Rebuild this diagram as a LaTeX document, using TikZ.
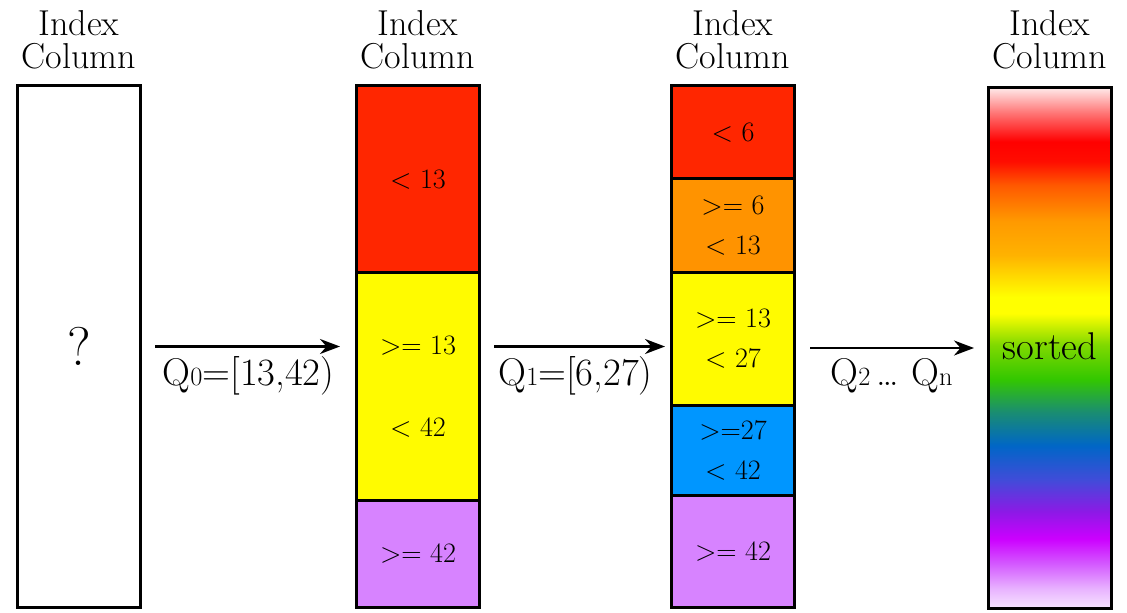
\documentclass[tikz,border=0pt]{standalone}
\usepackage{xcolor}
\usepackage{tikz}
\usetikzlibrary{arrows.meta}

\definecolor{lowred}{RGB}{255,38,0}
\definecolor{midorange}{RGB}{255,147,0}
\definecolor{midyellow}{RGB}{255,251,0}
\definecolor{midblue}{RGB}{0,150,255}
\definecolor{highpurple}{RGB}{215,131,255}

\pgfdeclareverticalshading{rainbow}{100bp}{
  rgb(0bp)=(0.97,0.9,1); rgb(25bp)=(0.97,0.9,1); rgb(26.9bp)=(0.91,0.7,1);
  rgb(29.3bp)=(0.83,0.35,1); rgb(31.7bp)=(0.8,0,1); rgb(34.3bp)=(0.55,0.1,0.9);
  rgb(37.4bp)=(0.25,0.3,0.85); rgb(40.6bp)=(0,0.4,0.78); rgb(43.8bp)=(0.1,0.55,0.45);
  rgb(47bp)=(0.2,0.78,0); rgb(50.3bp)=(0.5,0.85,0); rgb(53.3bp)=(1,1,0);
  rgb(54.9bp)=(1,1,0); rgb(58.9bp)=(1,0.7,0); rgb(62.2bp)=(1,0.6,0);
  rgb(65.6bp)=(1,0.35,0); rgb(67.9bp)=(1,0.05,0); rgb(69.8bp)=(1,0,0);
  rgb(72.5bp)=(1,0.45,0.45); rgb(75bp)=(1,0.92,0.92); rgb(100bp)=(1,0.92,0.92)}

\newcommand{\qsub}[1]{{\fontsize{15}{16}\selectfont #1}}

\tikzset{
  block/.style={draw, line width=0.6mm, minimum width=24.6mm, inner sep=0pt,
    align=center, font=\fontsize{16}{22.8}\selectfont},
  title/.style={align=center, inner sep=0pt, font=\fontsize{20.5}{19}\selectfont},
  flow/.style={-{Stealth[length=4mm,width=3mm]}, line width=0.45mm},
  qlabel/.style={below=0.6mm, font=\fontsize{22}{24}\selectfont}
}

\begin{document}
\begin{tikzpicture}[x=0.2mm, y=-0.2mm]
    \useasboundingbox (0,0) rectangle (1127,613);
    % unknown order
    \node[block, minimum height=104.4mm, font=\fontsize{31}{36}\selectfont] (c1) at (79,346.5) {?};
    % after Q0
    \node[block, fill=lowred, minimum height=37.5mm] (c2a) at (418,179.25) {\textless{} 13};
    \node[block, fill=midyellow, minimum height=45.4mm] (c2b) at (418,386.5) {\textgreater= 13\\[24pt]\textless{} 42};
    \node[block, fill=highpurple, minimum height=21.5mm] (c2c) at (418,553.75) {\textgreater= 42};
    % after Q1
    \node[block, fill=lowred, minimum height=18.7mm] (c3a) at (733,132.25) {\textless{} 6};
    \node[block, fill=midorange, minimum height=18.8mm] (c3b) at (733,226) {\textgreater= 6\\\textless{} 13};
    \node[block, fill=midyellow, minimum height=26.4mm] (c3c) at (733,339) {\textgreater= 13\\\textless{} 27};
    \node[block, fill=midblue, minimum height=18mm] (c3d) at (733,450) {\textgreater=27\\\textless{} 42};
    \node[block, fill=highpurple, minimum height=22.5mm] (c3e) at (733,551.25) {\textgreater= 42};
    % fully sorted
    \node[block, shade, shading=rainbow, minimum height=104.2mm, font=\fontsize{22}{24}\selectfont] (c4) at (1050,348) {\raisebox{0.7mm}{sorted}};
    % titles
    \foreach \x/\name in {79/t1, 418/t2, 733/t3, 1050/t4}
        \node[title] (\name) at (\x,40) {Index\\Column};
    % queries
    \draw[flow, shorten <=2.6mm, shorten >=3mm] (c1.east) -- node[qlabel] {Q\qsub{0}=[13,42)} (c1.east -| c2a.west);
    \draw[flow, shorten <=2.6mm, shorten >=1mm] (c1.east -| c2a.east) -- node[qlabel] {Q\qsub{1}=[6,27)} (c1.east -| c3a.west);
    \draw[flow, shorten <=2.8mm, shorten >=2.6mm] (c4.west -| c3a.east) -- node[qlabel] {Q\qsub{2}\,\dots\ Q\qsub{n}} (c4.west);
\end{tikzpicture}
\end{document}
